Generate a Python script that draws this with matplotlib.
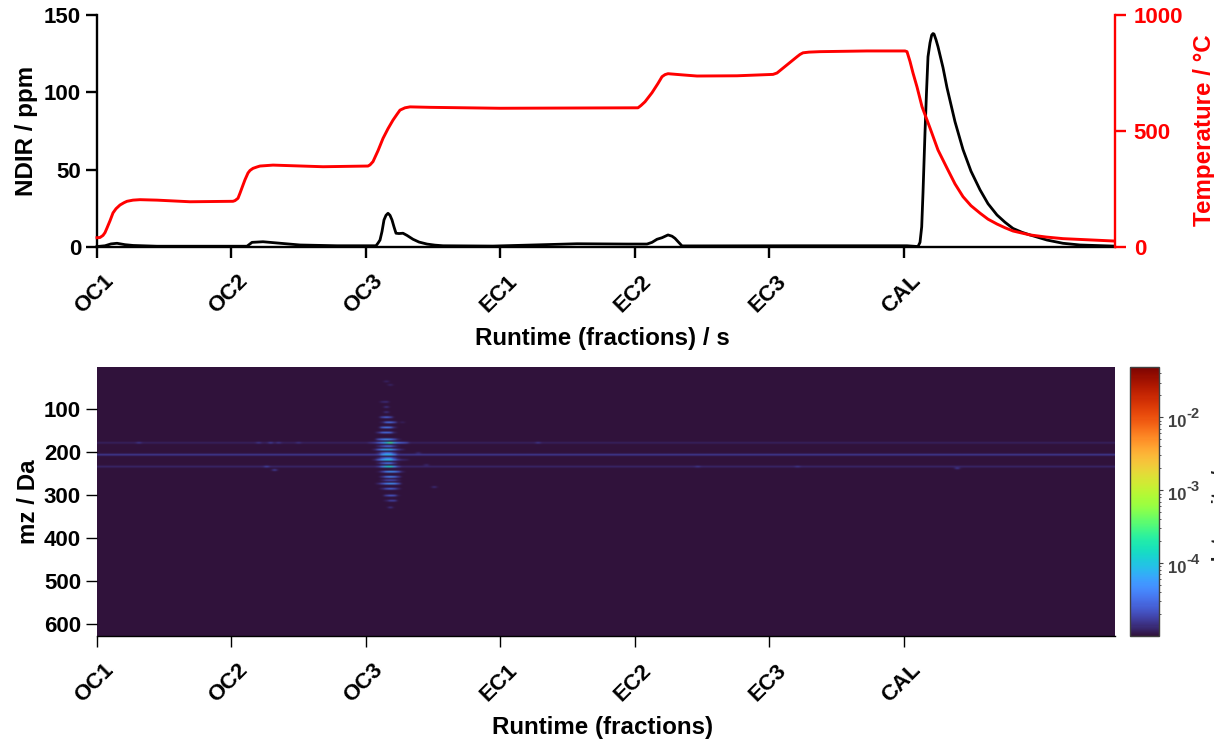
import numpy as np
import matplotlib
matplotlib.use("Agg")
import matplotlib.pyplot as plt
from matplotlib.colors import LogNorm
from matplotlib.transforms import ScaledTranslation

plt.rcParams['font.family'] = ['Liberation Sans', 'DejaVu Sans']
plt.rcParams['font.weight'] = 'bold'

fraction_labels = ['OC1', 'OC2', 'OC3', 'EC1', 'EC2', 'EC3', 'CAL']
fraction_starts = [0, 134.5, 269, 403.5, 538, 672.5, 807]
runtime_end = 1018

temp_time = [0, 3, 6, 8, 10, 13, 16, 19, 23, 27, 30, 36, 43, 60, 93, 136, 138, 141, 143, 146, 148, 151,
             153, 156, 160, 163, 176, 226, 271, 273, 276, 281, 286, 291, 296, 300, 303, 308, 313, 333,
             403, 541, 544, 548, 555, 561, 565, 568, 571, 585, 600, 640, 676, 680, 690, 700, 703, 706,
             712, 723, 770, 808, 810, 813, 816, 820, 825, 833, 841, 850, 858, 866, 874, 883, 891, 900,
             908, 916, 933, 949, 966, 1016]
temp_vals = [40, 41, 50, 62, 82, 113, 147, 165, 181, 191, 197, 202, 204, 202, 195, 197, 200, 210, 232, 267, 290, 319,
             330, 339, 345, 349, 353, 346, 349, 354, 368, 415, 468, 510, 547, 572, 590, 600, 604, 602,
             598, 600, 610, 626, 665, 705, 734, 743, 747, 742, 737, 738, 744, 750, 785, 820, 830, 837,
             840, 842, 845, 845, 842, 800, 750, 690, 605, 513, 418, 340, 272, 217, 178, 146, 120, 99,
             83, 69, 52, 43, 36, 26]

ndir_time = [0, 8, 14, 20, 28, 36, 60, 150, 152, 155, 166, 180, 203, 240, 279, 281, 283, 285, 287, 289, 291,
             293, 295, 297, 299, 302, 306, 310, 316, 322, 330, 338, 346, 396, 436, 480, 530, 550, 555, 560,
             565, 571, 575, 578, 581, 585, 700, 810, 821, 823, 824.7, 826, 828, 829.5, 831, 833, 834.7, 836,
             837, 839, 841, 846, 850, 858, 866, 874, 883, 891, 900, 908, 916, 925, 933, 950, 966, 983, 1016]
ndir_vals = [0.3, 0.8, 2.0, 2.4, 1.5, 1.0, 0.5, 0.5, 1.5, 3.0, 3.4, 2.6, 1.3, 0.8, 0.8, 2.5, 4.5, 10, 17.5, 20.5, 21.8,
             20.5, 17.5, 13, 8.9, 8.7, 8.9, 7.5, 5.0, 3.2, 1.9, 1.2, 0.8, 0.6, 1.3, 2.1, 1.9, 1.9, 3.0, 5.0,
             6.0, 7.8, 7.0, 5.6, 3.5, 0.7, 0.8, 0.8, 0.3, 3, 13, 35, 74, 100, 123, 132, 137, 138,
             137.7, 134, 129.5, 116, 103, 81, 63, 49, 37, 28, 20.7, 16, 12, 9.5, 7.8, 4.5, 2.4, 1.3, 0.6]

mz_ticks = [100, 200, 300, 400, 500, 600]
mz_min, mz_max = 1, 629
background = 1.0e-5
colorbar_ticks = [1e-4, 1e-3, 1e-2]
colorbar_exponents = ['-4', '-3', '-2']

line_mz = [177, 204, 235]
line_vals = [1.2e-5, 1.6e-5, 1.3e-5]

blob_x = [272, 276, 280, 284, 288, 292, 296, 300, 304, 308]
blob_mz = [35, 43, 79, 93, 105, 117, 128, 141, 154, 169, 178, 185, 193, 200, 206, 212, 218, 225,
           232, 244, 257, 266, 274, 286, 302, 314, 330]
blob_vals = [
    [1, 1, 1, 1, 1.3, 1, 1, 1, 1, 1],
    [1, 1, 1, 1, 1, 1.3, 1, 1, 1, 1],
    [1, 1, 1, 1.3, 1.4, 1, 1, 1, 1, 1],
    [1, 1, 1, 1, 1.5, 1, 1, 1, 1, 1],
    [1, 1, 1, 1, 1.5, 1, 1, 1, 1, 1],
    [1, 1, 1, 2, 2.8, 2, 1, 1, 1, 1],
    [1, 1, 1, 1.2, 2.8, 3.2, 2, 1, 1.2, 1],
    [1, 1, 1, 2.8, 3.8, 3.2, 1.3, 1, 1, 1],
    [1, 1, 1.4, 2.8, 3.2, 2.8, 1.2, 1, 1, 1],
    [1, 1, 2.2, 4, 5.5, 4, 2.2, 1.2, 1, 1],
    [1.4, 1.6, 2.5, 4.5, 9, 28, 6, 3, 2.4, 2],
    [1, 1, 1.3, 2, 3, 3, 1.5, 1.1, 1, 1],
    [1, 1.2, 2.5, 5.5, 7.5, 7, 3, 1.6, 1.2, 1],
    [1, 1, 1.2, 2.2, 3.2, 3, 1.5, 1.1, 1, 1],
    [1, 1.2, 1.8, 5.5, 8, 8, 4, 1.5, 1.2, 1],
    [1, 1, 1.2, 2.2, 3.2, 3.2, 1.6, 1.1, 1, 1],
    [1, 1.2, 2.5, 5.5, 9, 9, 3, 1.6, 1.3, 1.2],
    [1, 1, 1.2, 2.2, 3.5, 3.5, 1.6, 1.1, 1, 1],
    [1, 1.3, 1.6, 4.5, 10, 15, 5, 1.8, 1.3, 1.2],
    [1, 1, 1.1, 1.8, 4, 5.5, 4.5, 2.5, 1.2, 1],
    [1, 1, 1, 1.5, 3.2, 4.5, 3.2, 1.7, 1, 1],
    [1, 1, 1, 1.2, 1.8, 2, 1.8, 1.2, 1, 1],
    [1, 1, 1.3, 2.2, 4, 5.5, 4.5, 2.2, 1, 1],
    [1, 1, 1, 1.3, 2.2, 2.8, 2.2, 1.3, 1, 1],
    [1, 1, 1, 1, 1.8, 2.5, 2.2, 1.1, 1, 1],
    [1, 1, 1, 1, 1.2, 1.8, 1.8, 1, 1, 1],
    [1, 1, 1, 1, 1, 1.5, 1, 1, 1, 1],
]

speck_x = [40, 160, 172, 180, 200, 168, 176, 600, 700, 860, 337, 440, 320, 330]
speck_mz = [177, 177, 177, 178, 177, 235, 240, 235, 235, 236, 279, 178, 200, 230]
speck_vals = [1.6e-5, 1.6e-5, 1.8e-5, 1.6e-5, 1.5e-5, 2.0e-5, 1.8e-5, 1.6e-5, 1.6e-5, 1.6e-5, 1.4e-5, 1.6e-5, 1.3e-5, 1.3e-5]

W, H = 1214, 741
fig = plt.figure(figsize=(W / 100, H / 100), dpi=100)


def box(l, t, r, b):
    return [l / W, 1 - b / H, (r - l) / W, (b - t) / H]


FS = 16
LFS = 17.4
LW = 1.7


def shift_labels(axis, dx_px, dy_px):
    off = ScaledTranslation(dx_px / 100, dy_px / 100, fig.dpi_scale_trans)
    for lbl in axis.get_ticklabels():
        lbl.set_transform(lbl.get_transform() + off)


ax = fig.add_axes(box(97, 15, 1115, 247))
ax.plot(ndir_time, ndir_vals, color='k', lw=2.0, clip_on=False, zorder=3)
ax.set_xlim(0, runtime_end)
ax.set_ylim(0, 150)
ax.set_yticks([0, 50, 100, 150])
ax.set_xticks(fraction_starts)
ax.set_xticklabels(fraction_labels, rotation=45, ha='right', rotation_mode='anchor')
ax.tick_params(width=LW, length=8, labelsize=FS, pad=3.5)
ax.tick_params(axis='x', pad=5.5)
shift_labels(ax.xaxis, 6, -5)
ax.set_xlabel('Runtime (fractions) / s', fontsize=LFS, fontweight='bold', labelpad=6.5, x=0.4965)
ax.set_ylabel('NDIR / ppm', fontsize=LFS, fontweight='bold', labelpad=4.5)
for s in ['top', 'right']:
    ax.spines[s].set_visible(False)
for s in ['left', 'bottom']:
    ax.spines[s].set_linewidth(LW)

ax2 = ax.twinx()
ax2.plot(temp_time, temp_vals, color='#ff0000', lw=2.1, clip_on=False, zorder=4)
ax2.set_ylim(0, 1000)
ax2.set_yticks([0, 500, 1000])
ax2.tick_params(axis='y', colors='#ff0000', width=LW, length=8, labelsize=FS, pad=5.5)
ax2.set_ylabel('Temperature / °C', color='#ff0000', fontsize=LFS, fontweight='bold', labelpad=7, y=0.505)
for s in ['top', 'left', 'bottom']:
    ax2.spines[s].set_visible(False)
ax2.spines['right'].set_color('#ff0000')
ax2.spines['right'].set_linewidth(LW)

# heatmap grid: cells filled only from the read-off tables above
dx, dmz = 4, 4
Z = np.full((int((mz_max - mz_min) / dmz) + 1, int(runtime_end / dx) + 1), background)
row = lambda m: int(round((m - mz_min) / dmz))
col = lambda x: int(round(x / dx))
for m, v in zip(line_mz, line_vals):
    Z[row(m), :] = v
for x, m, v in zip(speck_x, speck_mz, speck_vals):
    Z[row(m), col(x)] = v
for i, m in enumerate(blob_mz):
    for j, x in enumerate(blob_x):
        val = blob_vals[i][j] * background
        if val > Z[row(m), col(x)]:
            Z[row(m), col(x)] = val

axh = fig.add_axes(box(97, 367, 1115, 636))
norm = LogNorm(vmin=1e-5, vmax=0.049)
im = axh.imshow(Z, cmap='turbo', norm=norm, aspect='auto', interpolation='gaussian',
                interpolation_stage='rgba', extent=[0, runtime_end, mz_max, mz_min])
axh.set_xticks(fraction_starts)
axh.set_xticklabels(fraction_labels, rotation=45, ha='right', rotation_mode='anchor')
axh.set_yticks(mz_ticks)
axh.tick_params(axis='x', width=1.0, length=8, labelsize=FS, pad=5.5)
axh.tick_params(axis='y', width=1.0, length=8, labelsize=FS, pad=3.5)
shift_labels(axh.xaxis, 6, -5)
axh.set_xlabel('Runtime (fractions)', fontsize=LFS, fontweight='bold', labelpad=6.5, x=0.4965)
axh.set_ylabel('mz / Da', fontsize=LFS, fontweight='bold', labelpad=3)
for s in ['top', 'right', 'left']:
    axh.spines[s].set_visible(False)
axh.spines['bottom'].set_linewidth(1.0)

cax = fig.add_axes(box(1129.5, 367, 1159, 636))
cb = fig.colorbar(im, cax=cax)
cb.set_ticks(colorbar_ticks)
cb.set_ticklabels([''] * len(colorbar_ticks))
cb.ax.tick_params(which='major', length=3, width=0.8, color='#404040')
cb.ax.tick_params(which='minor', length=1.5, width=0.6, color='#404040')
cb.outline.set_edgecolor('#404040')
cb.outline.set_linewidth(1.0)
ytrans = cax.get_yaxis_transform()
for v, e in zip(colorbar_ticks, colorbar_exponents):
    cax.annotate('10', xy=(1, v), xycoords=ytrans, xytext=(6.5, -4), textcoords='offset points',
                 fontsize=12, fontweight='bold', color='#404040', ha='left', va='center')
    cax.annotate(e, xy=(1, v), xycoords=ytrans, xytext=(19.5, 2.5), textcoords='offset points',
                 fontsize=10.5, fontweight='bold', color='#404040', ha='left', va='center')

fig.text(1212 / W, 1 - 496 / H, 'Intensity / a.u.', rotation=90, ha='left', va='center',
         fontsize=14, fontweight='bold', color='#202020')

fig.savefig('out.png', dpi=100)
